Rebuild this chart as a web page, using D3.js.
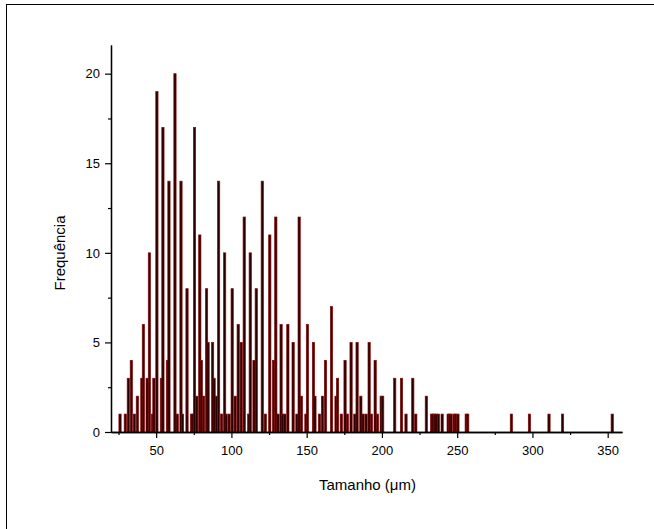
<!DOCTYPE html>
<html>
<head>
<meta charset="utf-8">
<script src="https://cdn.jsdelivr.net/npm/d3@7"></script>
<style>
	body { margin: 0; background: #fff; }
	svg { display: block; font-family: "Liberation Sans", Arial, sans-serif; }
</style>
</head>
<body>
<div id="chart"></div>
<script>
// Tamanho (um) of each bar and its frequency
var sizes = [26, 29.5, 31.5, 33.5, 35.5, 37.5, 40.5, 41.5, 44, 45.5, 47.5, 48.5, 50.5, 53.5, 54.5,
	57.5, 58.5, 62.5, 64, 66.5, 67.5, 70.5, 73.5, 74.5, 75.5, 77, 79, 80, 81.5, 83.5, 84.5, 87.5,
	88.5, 90, 91.5, 93.5, 95.5, 96.5, 98.5, 100.5, 102.5, 104.5, 106.5, 108.5, 111.5, 112.5, 115,
	116.5, 120.5, 122.5, 125.5, 128, 129.5, 131, 133, 134, 135.5, 137.5, 141, 143.5, 145, 146.5,
	149.5, 150.5, 154.5, 155.5, 158.5, 160.5, 162.5, 166.5, 169.5, 170.5, 173, 175.5, 177, 179.5,
	182, 183.5, 186, 187.5, 189.5, 191.5, 193, 195.5, 197, 199.5, 200.5, 208.5, 213, 216, 220.5,
	222.5, 229.5, 233, 234, 235, 236, 237.5, 240, 244, 245, 246, 248, 249, 250.5, 256, 257, 286,
	298, 311, 320, 353];
var freqs = [1, 1, 3, 4, 1, 2, 3, 6, 3, 10, 1, 3, 19, 3, 17,
	4, 14, 20, 1, 14, 1, 8, 1, 1, 17, 2, 11, 4, 2, 8, 5, 5,
	3, 2, 14, 1, 10, 1, 1, 8, 2, 6, 5, 12, 1, 10, 4,
	8, 14, 1, 11, 4, 12, 1, 6, 1, 1, 6, 5, 1, 12, 2,
	1, 6, 5, 2, 1, 2, 4, 7, 2, 3, 1, 4, 1, 5,
	1, 5, 2, 1, 1, 5, 1, 4, 1, 2, 2, 3, 3, 1, 3,
	1, 2, 1, 1, 1, 1, 1, 1, 1, 1, 1, 1, 1, 1, 1, 1, 1,
	1, 1, 1, 1];

var xMajor = [50, 100, 150, 200, 250, 300, 350];
var xMinor = [25, 75, 125, 175, 225, 275, 325];
var yMajor = [0, 5, 10, 15, 20];
var yMinor = [2.5, 7.5, 12.5, 17.5];

function histogram() {
	var w = 654, h = 529;
	var pLeft = 111, pRight = 622, pTop = 45, pBottom = 432;

	var data = sizes.map(function (s, i) { return { x: s, f: freqs[i] }; });

	var svg = d3.select("#chart").append("svg")
		.attr("width", w)
		.attr("height", h);

	// outer frame (right and bottom edges fall outside the window)
	svg.append("rect")
		.attr("x", 6.5).attr("y", 4.5)
		.attr("width", w + 20).attr("height", h + 20)
		.attr("fill", "none")
		.attr("stroke", "#000")
		.attr("stroke-width", 1);

	var x = d3.scaleLinear().domain([20, 359.5]).range([pLeft, pRight]);
	var y = d3.scaleLinear().domain([0, 21.6]).range([pBottom, pTop]);

	var bw = x(1.5) - x(0);

	//bars
	svg.append("g").selectAll("rect")
		.data(data)
		.enter().append("rect")
		.attr("x", function (d) { return x(d.x) - bw / 2; })
		.attr("y", function (d) { return y(d.f); })
		.attr("width", bw)
		.attr("height", function (d) { return y(0) - y(d.f); })
		.attr("fill", "#260000")
		.attr("stroke", "#8a0a0a")
		.attr("stroke-width", 0.7);

	//x axis
	svg.append("g")
		.attr("transform", "translate(0," + pBottom + ")")
		.call(d3.axisBottom(x).tickValues(xMajor).tickSize(6).tickPadding(8).tickSizeOuter(0));
	svg.append("g")
		.attr("transform", "translate(0," + pBottom + ")")
		.call(d3.axisBottom(x).tickValues(xMinor).tickSize(3).tickFormat("").tickSizeOuter(0));

	//y axis
	svg.append("g")
		.attr("transform", "translate(" + pLeft + ",0)")
		.call(d3.axisLeft(y).tickValues(yMajor).tickSize(6).tickPadding(5).tickSizeOuter(0));
	svg.append("g")
		.attr("transform", "translate(" + pLeft + ",0)")
		.call(d3.axisLeft(y).tickValues(yMinor).tickSize(3).tickFormat("").tickSizeOuter(0));

	svg.selectAll(".domain").attr("stroke", "#000").attr("stroke-width", 1.3);
	svg.selectAll(".tick line").attr("stroke", "#000").attr("stroke-width", 1.2);
	svg.selectAll(".tick text")
		.attr("fill", "#000")
		.style("font-size", "13px")
		.style("font-family", "'Liberation Sans', Arial, sans-serif");

	//axis titles
	svg.append("text")
		.attr("x", (pLeft + pRight) / 2 + 1)
		.attr("y", 490)
		.attr("text-anchor", "middle")
		.style("font-size", "15px")
		.text("Tamanho (\u03bcm)");

	svg.append("text")
		.attr("transform", "translate(65,253) rotate(-90)")
		.attr("text-anchor", "middle")
		.style("font-size", "15px")
		.text("Frequência");
}

histogram();
</script>
</body>
</html>
